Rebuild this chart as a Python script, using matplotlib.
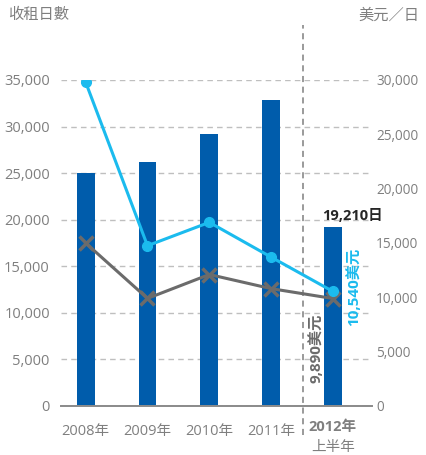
import matplotlib
matplotlib.use("Agg")
import matplotlib.pyplot as plt
from matplotlib.lines import Line2D

plt.rcParams["font.family"] = ["Open Sans", "Noto Sans CJK TC", "DejaVu Sans"]

years = ["2008年", "2009年", "2010年", "2011年", "2012年"]
rental_days = [25000, 26200, 29200, 32800, 19210]
rate_high = [29800, 14750, 16900, 13700, 10540]
rate_low = [15000, 9900, 12100, 10800, 9890]

left_ticks = [0, 5000, 10000, 15000, 20000, 25000, 30000, 35000]
right_ticks = [0, 5000, 10000, 15000, 20000, 25000, 30000]

BAR = "#005CAB"
LIGHT = "#1BBBEE"
DARK = "#6B6B6B"
TXT = "#7F7F7F"

fig = plt.figure(figsize=(4.26, 4.55), dpi=100)
ax = fig.add_axes([0.143, 0.1077, 0.73, 0.7165])
ax2 = ax.twinx()

x = list(range(len(years)))
ax.bar(x, rental_days, width=0.29, color=BAR, zorder=2)
ax.set_ylim(0, 35000)
ax.set_xlim(-0.4, 4.63)
ax.set_yticks(left_ticks)
ax.set_yticklabels([f"{v:,}" for v in left_ticks])
ax.yaxis.grid(True, ls=(0, (4, 3)), color="#BFBFBF", lw=1)
ax.set_axisbelow(True)

ax2.set_ylim(0, 30000)
ax2.set_yticks(right_ticks)
ax2.set_yticklabels([f"{v:,}" for v in right_ticks])
ax2.plot(x, rate_low, color=DARK, lw=2.2, marker="x", ms=10, mew=2.5, zorder=3)
ax2.plot(x, rate_high, color=LIGHT, lw=2.2, marker="o", ms=7, zorder=4)

for a in (ax, ax2):
    for s in ("top", "left", "right"):
        a.spines[s].set_visible(False)
    a.spines["bottom"].set_color("#8C8C8C")
    a.spines["bottom"].set_linewidth(1.3)
ax.tick_params(axis="y", length=0, labelsize=10.5, labelcolor=TXT, pad=8)
ax2.tick_params(axis="y", length=0, labelsize=9.8, labelcolor=TXT, pad=3)

ax.set_xticks(x[:4])
ax.set_xticklabels(years[:4])
ax.tick_params(axis="x", length=0, labelsize=10.5, labelcolor=TXT, pad=13)
xt = ax.get_xaxis_transform()
ax.text(4, -0.064, years[4], transform=xt, ha="center", va="center",
        fontsize=10.5, color=TXT, fontweight="bold")
ax.text(4, -0.126, "上半年", transform=xt, ha="center", va="center",
        fontsize=10.5, color=TXT)

# divider between full years and half year
ax.add_line(Line2D([3.51, 3.51], [-0.09, 1.17], transform=xt, color="#7F7F7F",
                   lw=1.1, ls=(0, (4, 3)), clip_on=False))

ax.text(3.82, rental_days[4] + 400, f"{rental_days[4]:,}日", ha="left", va="bottom",
        fontsize=10.5, fontweight="bold", color="#262626")
ax2.text(4.34, rate_high[4] + 400, f"{rate_high[4]:,}美元", rotation=90, ha="center",
         va="center", fontsize=11, fontweight="bold", color=LIGHT)
ax2.text(3.72, rate_low[4] - 4550, f"{rate_low[4]:,}美元", rotation=90, ha="center",
         va="center", fontsize=11, fontweight="bold", color=DARK)

fig.text(0.019, 0.965, "收租日數", ha="left", va="center", fontsize=11, color=TXT)
fig.text(0.985, 0.965, "美元／日", ha="right", va="center", fontsize=11, color=TXT)

fig.savefig("out.png", dpi=100)
